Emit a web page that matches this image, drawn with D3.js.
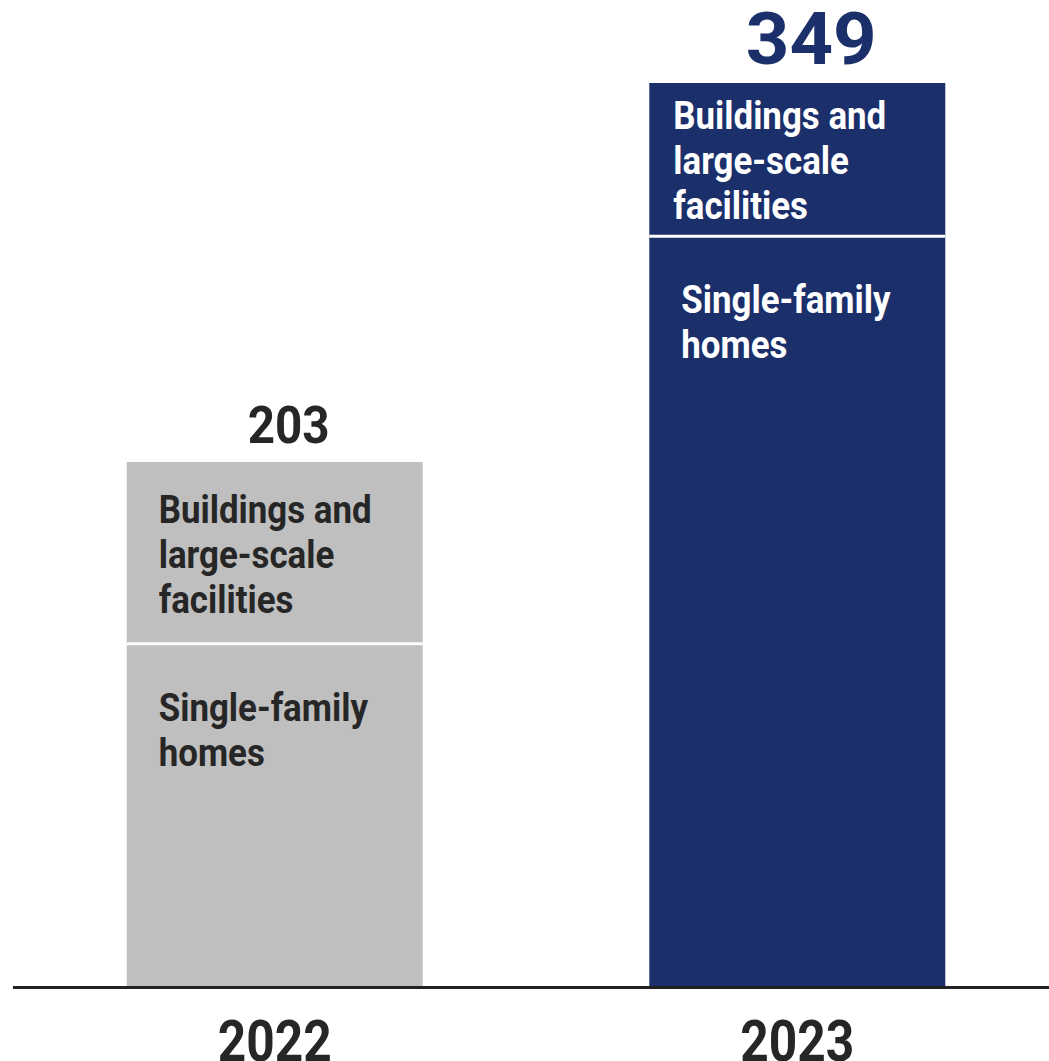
<!DOCTYPE html>
<html>
<head>
<meta charset="utf-8">
<script src="https://cdn.jsdelivr.net/npm/d3@7"></script>
<style>
  html, body { margin: 0; padding: 0; background: #fff; }
  svg { display: block; font-family: Roboto, "Noto Sans", sans-serif; }
</style>
</head>
<body>
<svg id="chart" width="1049" height="1061"></svg>
<script>
// Order volume by year, stacked by building type
const years = ["2022", "2023"];
const singleFamily = [133, 290];
const buildings = [70, 59];
const totals = [203, 349];
const seriesLabels = [
  ["Single-family", "homes"],
  ["Buildings and", "large-scale", "facilities"]
];

const svg = d3.select("#chart");

const x = d3.scaleBand()
  .domain(years)
  .range([13, 1059])
  .paddingInner(0.4336)
  .paddingOuter(0.2176);

const y = d3.scaleLinear()
  .domain([0, 349])
  .range([989, 83]);

const fills = { "2022": "#bfbfbf", "2023": "#1b2f6b" };
const inkOn = { "2022": "#262626", "2023": "#ffffff" };

// stacked segments: single-family at bottom, buildings on top
const stacks = years.map((yr, i) => ({
  year: yr,
  segs: [
    { key: 0, y0: 0, y1: singleFamily[i] },
    { key: 1, y0: singleFamily[i], y1: singleFamily[i] + buildings[i] }
  ]
}));

const g = svg.append("g");

stacks.forEach(s => {
  const bx = x(s.year), bw = x.bandwidth();
  s.segs.forEach(seg => {
    g.append("rect")
      .attr("x", bx)
      .attr("y", y(seg.y1))
      .attr("width", bw)
      .attr("height", y(seg.y0) - y(seg.y1))
      .attr("fill", fills[s.year]);
  });
  // white gap between segments
  g.append("line")
    .attr("x1", bx).attr("x2", bx + bw)
    .attr("y1", y(s.segs[0].y1)).attr("y2", y(s.segs[0].y1))
    .attr("stroke", "#fff").attr("stroke-width", 3);
});

// horizontal squeeze around each text's own x
function fitX(sel, ratio) {
  sel.each(function () {
    const t = d3.select(this);
    const cx = +t.attr("x");
    t.attr("transform", `translate(${cx},0) scale(${ratio},1) translate(${-cx},0)`);
  });
}

// in-bar series labels
const labelSize = 38.5, lineGap = 45;
const probe = svg.append("text").attr("font-size", labelSize).attr("font-weight", 700)
  .text("Buildings and");
const labelRatio = 213 / probe.node().getComputedTextLength();
probe.remove();

stacks.forEach((s, i) => {
  const bx = x(s.year);
  s.segs.forEach(seg => {
    const lines = seriesLabels[seg.key];
    const top = y(seg.y1), bot = y(seg.y0);
    let firstBase;
    if (seg.key === 1) {
      // block centered vertically within the segment
      const capH = labelSize * 0.711;
      const blockH = capH + (lines.length - 1) * lineGap;
      firstBase = (top + bot) / 2 - blockH / 2 + capH + 1;
    } else {
      firstBase = top + 77;
    }
    const inset = (seg.key === 1 && i === 1) ? 24 : 32;
    const t = g.selectAll(null).data(lines).enter().append("text")
      .attr("x", bx + inset)
      .attr("y", (d, k) => firstBase + k * lineGap)
      .attr("font-size", labelSize)
      .attr("font-weight", 700)
      .attr("fill", inkOn[s.year])
      .text(d => d);
    fitX(t, labelRatio);
  });
});

// totals above bars
const totalStyle = [
  { size: 51.6, color: "#262626", w: 82 },
  { size: 73, color: "#1b2f6b", w: 131 }
];
stacks.forEach((s, i) => {
  const cx = x(s.year) + x.bandwidth() / 2 + 14;
  const t = g.append("text")
    .attr("x", cx)
    .attr("y", y(totals[i]) - 19)
    .attr("text-anchor", "middle")
    .attr("font-size", totalStyle[i].size)
    .attr("font-weight", 700)
    .attr("fill", totalStyle[i].color)
    .text(totals[i]);
  const r = totalStyle[i].w / t.node().getComputedTextLength();
  fitX(t, r);
});

// baseline axis
const axis = svg.append("g")
  .attr("transform", `translate(0,${987.5})`)
  .call(d3.axisBottom(x).tickSize(0).tickPadding(0).tickFormat(() => ""));
axis.select(".domain").attr("d", "M13,0H1049").attr("stroke", "#222").attr("stroke-width", 3);

// year labels
const yearSize = 57.7;
const yr = g.selectAll(null).data(years).enter().append("text")
  .attr("x", d => x(d) + x.bandwidth() / 2)
  .attr("y", 1061)
  .attr("text-anchor", "middle")
  .attr("font-size", yearSize)
  .attr("font-weight", 700)
  .attr("fill", "#262626")
  .text(d => d);
const yrRatio = 114 / yr.nodes()[0].getComputedTextLength();
fitX(yr, yrRatio);
</script>
</body>
</html>
